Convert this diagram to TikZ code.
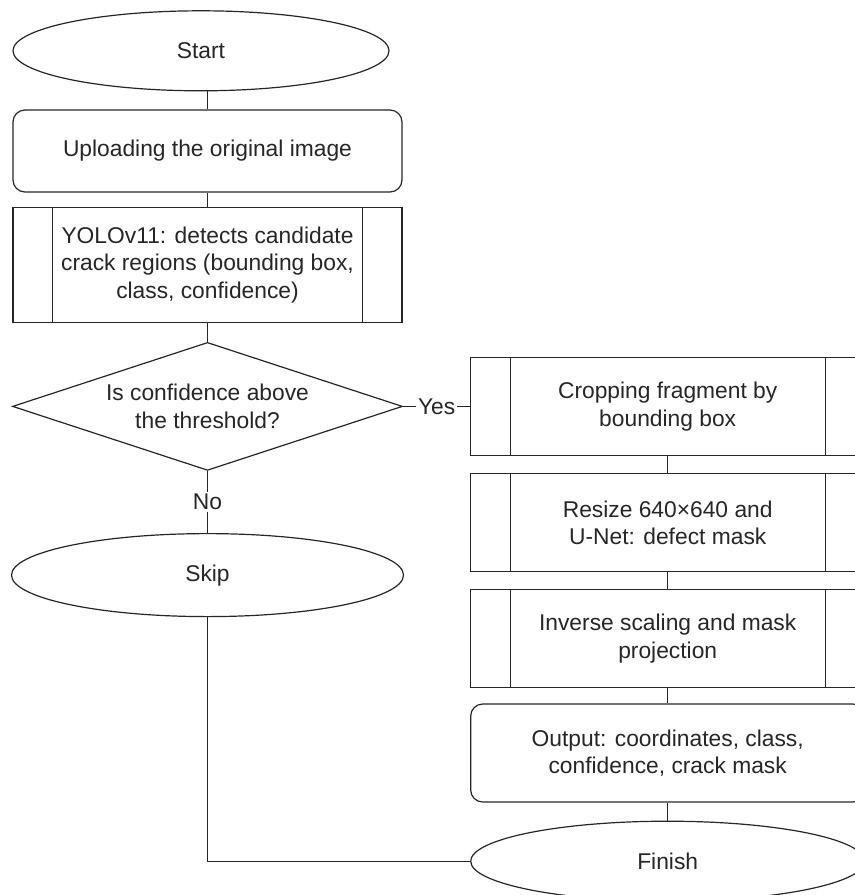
\documentclass[tikz,border=0pt]{standalone}
\usepackage{fontspec}
\setmainfont{Liberation Sans}
\usepackage{tikz}
\usetikzlibrary{shapes.geometric}
\usetikzlibrary{positioning}

\begin{document}
\begin{tikzpicture}[x=0.5pt, y=-0.5pt, line width=0.6pt, color=black!85, font=\fontsize{11.4}{13.75}\selectfont,
  term node/.style={draw, ellipse, inner sep=0pt, minimum height=40pt},
  step node/.style={draw, rectangle, rounded corners=6pt, align=center, minimum height=49pt},
  sub node/.style={draw, rectangle, align=center, minimum height=49pt,
    path picture={\draw ([xshift=19.75pt]path picture bounding box.north west) -- ([xshift=19.75pt]path picture bounding box.south west)
      ([xshift=-19.75pt]path picture bounding box.north east) -- ([xshift=-19.75pt]path picture bounding box.south east);}},
  test node/.style={draw, diamond, aspect=3, inner sep=0pt, align=center, minimum width=195pt, minimum height=64pt},
  edge label/.style={fill=white, inner sep=1pt}]
\useasboundingbox (0,0) rectangle (855,895);
\clip (0,0) rectangle (855,895);

\node (upload) [step node, minimum width=194.5pt, minimum height=41pt] at (207.5,151) {Uploading the original image};
\node (start) [term node, minimum width=188pt, above=9pt of upload, xshift=-3.25pt] {Start};
\node (yolo) [sub node, minimum width=194.5pt, minimum height=57.5pt, below=7pt of upload] {YOLOv11: detects candidate\\crack regions (bounding box,\\class, confidence)};
\node (cond) [test node, below=9.5pt of yolo] {Is confidence above\\the threshold?};
\node (skip) [term node, minimum width=196pt, minimum height=41.5pt, below=31pt of cond] {Skip};

\node (crop) [sub node, minimum width=197pt, right=33.5pt of cond] {Cropping fragment by\\bounding box};
\node (resize) [sub node, minimum width=197pt, below=8.5pt of crop] {Resize 640×640 and\\U-Net: defect mask};
\node (inverse) [sub node, minimum width=197pt, below=8.5pt of resize] {Inverse scaling and mask\\projection};
\node (output) [step node, minimum width=197pt, below=7.5pt of inverse] {Output: coordinates, class,\\confidence, crack mask};
\node (finish) [term node, minimum width=197pt, below=9pt of output] {Finish};

\draw (upload.north) -- (upload.north |- start.south);
\draw (upload) -- (yolo);
\draw (yolo) -- (cond);
\draw (cond.east) -- node[edge label] {Yes} (crop.west);
\draw (cond.south) -- node[edge label] {No} (skip.north);
\draw (crop) -- (resize);
\draw (resize) -- (inverse);
\draw (inverse) -- (output);
\draw (output) -- (finish);
\draw (skip.south) |- (finish.west);
\end{tikzpicture}
\end{document}
